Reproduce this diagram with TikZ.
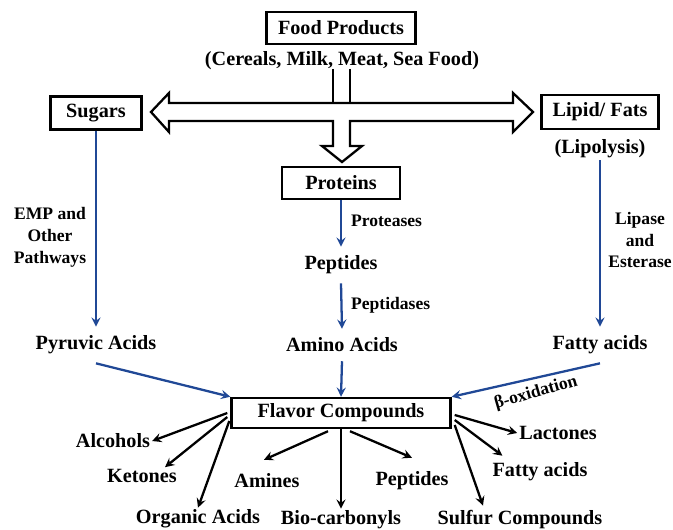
\documentclass[tikz,border=0pt]{standalone}
\usepackage{fontspec}
\setmainfont{Liberation Serif}
\definecolor{pathblue}{RGB}{32,72,150}
\begin{document}
\begin{tikzpicture}[x=0.02cm,y=-0.02cm,
    box/.style={draw,line width=1.4pt,inner sep=0pt,
        font=\fontsize{11.5}{13}\selectfont\bfseries},
    stage/.style={inner sep=5pt,font=\fontsize{11.5}{13}\selectfont\bfseries},
    outc/.style={inner sep=1pt,font=\fontsize{11.5}{13}\selectfont\bfseries},
    note/.style={inner sep=1pt,align=center,font=\fontsize{10}{12.5}\selectfont\bfseries},
    flow/.style={-stealth,draw=pathblue,line width=1.3pt},
    yield/.style={-stealth,line width=1.3pt}]
\useasboundingbox (0,0) rectangle (673,530);
% kasten
\node[box,minimum width=2.98cm,minimum height=0.64cm] (food) at (341,28) {Food Products};
\node[box,minimum width=1.82cm,minimum height=0.66cm] (sugars) at (96,113) {Sugars};
\node[box,minimum width=2.34cm,minimum height=0.68cm] (lipid) at (600,112) {Lipid/ Fats};
\node[box,minimum width=2.36cm,minimum height=0.64cm] (prot) at (341,183) {Proteins};
\node[box,minimum width=4.38cm,minimum height=0.6cm] (flav) at (341,413) {Flavor Compounds};
% texte
\path
(342,61) node[outc] (src) {(Cereals, Milk, Meat, Sea Food)}
(600,149) node[outc] (lipo) {(Lipolysis)}
(341,265) node[stage] (pep) {Peptides}
(96,345) node[stage] (pyr) {Pyruvic Acids}
(342,345) node[stage] (amino) {Amino Acids}
(600,345) node[stage] (fat) {Fatty acids}
(50,237) node[note] (emp) {EMP and\\Other\\Pathways}
(640,240) node[note] (lip) {Lipase\\and\\Esterase}
(349,221) node[note,anchor=west] (prtase) {Proteases}
(349,305) node[note,anchor=west] (pptase) {Peptidases}
(536,393) node[note,rotate=16] (beta) {β-oxidation};
% produkte
\path
(113,441) node[outc] (alc) {Alcohols}
(142,476) node[outc] (ket) {Ketones}
(198,519) node[outc] (org) {Organic Acids}
(267,481) node[outc] (amn) {Amines}
(341,520) node[outc] (bio) {Bio-carbonyls}
(412,481) node[outc] (pep2) {Peptides}
(558,433) node[outc] (lac) {Lactones}
(540,472) node[outc] (fat2) {Fatty acids}
(520,520) node[outc] (sul) {Sulfur Compounds};
% blockpfeil
\draw[line width=1.3pt]
(333,103) -- (169,103) -- (169,93) -- (151,112) -- (169,132) -- (169,121)
-- (333,121) -- (333,146) -- (322,146) -- (342,162) -- (362,146) -- (350,146)
-- (350,121) -- (513,121) -- (513,132) -- (533,112) -- (513,93) -- (513,103) -- cycle;
\draw[line width=1.3pt] (333,69) -- (333,103) (350,69) -- (350,103);
% blaue pfeile
\begin{scope}[flow]
    \draw (sugars.south) -- (pyr.north);
    \draw (prot.south) -- (pep.north);
    \draw (pep.south) -- (amino.north);
    \draw (lipo.south) -- (fat.north);
    \draw (pyr.south) -- (flav.north west);
    \draw (amino.south) -- (flav.north);
    \draw (fat.south) -- (flav.north east);
\end{scope}
% schwarze pfeile
\begin{scope}[yield]
    \draw ([shift={(-3,0)}]flav.west) -- (alc.east);
    \draw ([shift={(-3,4)}]flav.west) -- ([shift={(23,0)}]ket.north);
    \draw ([shift={(-1,8)}]flav.west) -- (org.north);
    \draw ([shift={(-13,2)}]flav.south) -- ([shift={(-3,-12)}]amn.north);
    \draw (flav.south) -- (bio.north);
    \draw ([shift={(9,2)}]flav.south) -- ([shift={(0,-12)}]pep2.north);
    \draw ([shift={(3,2)}]flav.east) -- (lac.west);
    \draw ([shift={(3,7)}]flav.east) -- ([shift={(12,-5)}]fat2.north west);
    \draw ([shift={(3,12)}]flav.east) -- ([shift={(-37,-3)}]sul.north);
\end{scope}
\end{tikzpicture}
\end{document}
